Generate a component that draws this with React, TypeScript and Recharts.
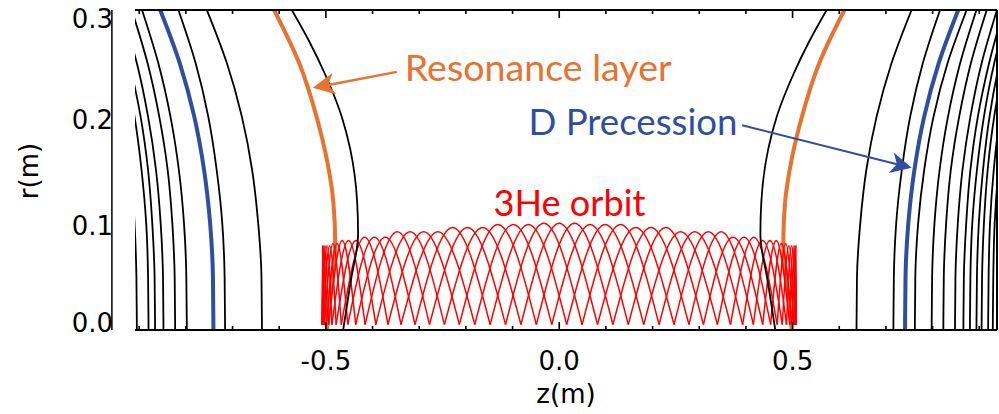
import React from 'react';
import { LineChart, Line, XAxis, YAxis, ReferenceLine, ReferenceDot, Label } from 'recharts';

// ---------- axes ----------
const zDomain: [number, number] = [-0.909, 0.938];
const rDomain: [number, number] = [0, 0.3];
const xTicks = [-0.9, -0.8, -0.7, -0.6, -0.5, -0.4, -0.3, -0.2, -0.1, 0, 0.1, 0.2, 0.3, 0.4, 0.5, 0.6, 0.7, 0.8, 0.9];
const xMajorTicks = [-0.5, 0, 0.5];
const yTicks = [0, 0.1, 0.2, 0.3];
const yTickLabels = ['0.0', '0.1', '0.2', '0.3'];

// ---------- field-line contours (|z| at given r) ----------
const contourR = [0, 0.05, 0.1, 0.15, 0.2, 0.25, 0.3];
const blackContoursZ: number[][] = [
  [0.637, 0.638, 0.645, 0.658, 0.680, 0.712, 0.755],
  [0.716, 0.717, 0.722, 0.734, 0.752, 0.779, 0.816],
  [0.762, 0.763, 0.769, 0.782, 0.802, 0.832, 0.873],
  [0.798, 0.799, 0.804, 0.815, 0.833, 0.859, 0.894],
  [0.823, 0.824, 0.829, 0.839, 0.857, 0.882, 0.916],
  [0.848, 0.849, 0.854, 0.864, 0.881, 0.905, 0.938],
  [0.866, 0.867, 0.872, 0.881, 0.897, 0.921, 0.952],
  [0.880, 0.881, 0.885, 0.895, 0.910, 0.932, 0.962],
  [0.894, 0.895, 0.899, 0.908, 0.922, 0.943, 0.972],
  [0.905, 0.906, 0.910, 0.918, 0.932, 0.953, 0.980],
  [0.919, 0.920, 0.923, 0.931, 0.944, 0.963, 0.989],
  [0.929, 0.930, 0.933, 0.941, 0.954, 0.972, 0.997],
];
// which of the contours above also appear on the left (negative z) side
const leftContourIdx = [0, 1, 3, 4, 5, 6, 7, 9, 10, 11];
const precessionZ = [0.741, 0.742, 0.748, 0.761, 0.782, 0.813, 0.855];

const innerContourR = [0, 0.045, 0.09, 0.12, 0.17, 0.2, 0.24, 0.27, 0.3];
const innerContourZ = [0.463, 0.447, 0.431, 0.433, 0.448, 0.466, 0.502, 0.535, 0.573];

const resonanceR = [0, 0.04, 0.08, 0.12, 0.16, 0.2, 0.25, 0.3];
const resonanceZ = [0.498, 0.489, 0.480, 0.484, 0.498, 0.520, 0.557, 0.611];

// ---------- 3He orbit: cusp positions (r ~ 0) along z, and arch-top envelope ----------
const orbitCusps = [
  -0.508, -0.506, -0.503, -0.499, -0.494, -0.487, -0.478, -0.467, -0.453, -0.436, -0.416, -0.393,
  -0.367, -0.339, -0.309, -0.278, -0.246, -0.214, -0.181, -0.148, -0.115, -0.082, -0.049, -0.016,
  0.016, 0.049, 0.082, 0.115, 0.148, 0.181, 0.214, 0.246, 0.278, 0.309, 0.339, 0.367,
  0.393, 0.416, 0.436, 0.453, 0.467, 0.478, 0.487, 0.494, 0.499, 0.503, 0.506, 0.508,
];
const orbitEnvZ = [0, 0.1, 0.2, 0.3, 0.4, 0.45, 0.48, 0.5];
const orbitEnvR = [0.100, 0.099, 0.096, 0.092, 0.087, 0.084, 0.081, 0.079];
const ORBIT_R_MIN = 0.005;
const ARCH_SPAN = 5;

// ---------- annotations ----------
const resonanceArrow = [{ x: -0.348, y: 0.242 }, { x: -0.528, y: 0.227 }];
const precessionArrow = [{ x: 0.392, y: 0.192 }, { x: 0.755, y: 0.152 }];
const resonanceLabel = { z: -0.331, r: 0.233, text: 'Resonance layer' };
const precessionLabel = { z: -0.066, r: 0.183, text: 'D Precession' };
const orbitLabel = { z: -0.141, r: 0.107, text: '3He orbit' };
const yAxisLineZ = -0.9585;

// ---------- styles ----------
const ORANGE = '#E8722E';
const BLUE = '#2F4E9F';
const RED = '#FF0000';
const FONT = 'DejaVu Sans';
const ANNOT_FONT = 'Lato';

// ---------- build series ----------
type Pt = { z: number; r: number };
const toPts = (zs: number[], rs: number[], sign: number): Pt[] => rs.map((r, i) => ({ z: sign * zs[i], r }));

const blackSeries: Pt[][] = [];
blackContoursZ.forEach((zs, i) => {
  blackSeries.push(toPts(zs, contourR, 1));
  if (leftContourIdx.includes(i)) blackSeries.push(toPts(zs, contourR, -1));
});
blackSeries.push(toPts(innerContourZ, innerContourR, 1));
blackSeries.push(toPts(innerContourZ, innerContourR, -1));

const blueSeries = [toPts(precessionZ, contourR, 1), toPts(precessionZ, contourR, -1)];
const orangeSeries = [toPts(resonanceZ, resonanceR, 1), toPts(resonanceZ, resonanceR, -1)];

const orbitArches: Pt[][] = [];
{
  const n = orbitCusps.length;
  for (let i = -(ARCH_SPAN - 1); i < n - 1; i++) {
    const a = Math.max(i, 0);
    const b = Math.min(i + ARCH_SPAN, n - 1);
    if (b <= a) continue;
    const z0 = orbitCusps[a];
    const z1 = orbitCusps[b];
    const zm = (z0 + z1) / 2;
    let best = 0;
    orbitEnvZ.forEach((ez, k) => {
      if (Math.abs(Math.abs(zm) - ez) < Math.abs(Math.abs(zm) - orbitEnvZ[best])) best = k;
    });
    orbitArches.push([
      { z: z0, r: ORBIT_R_MIN },
      { z: zm, r: orbitEnvR[best] },
      { z: z1, r: ORBIT_R_MIN },
    ]);
  }
}

// ---------- custom renderers ----------
const XTick = (props: any) => {
  const { x, y, payload, top } = props;
  const v = payload.value as number;
  const major = xMajorTicks.some((m) => Math.abs(m - v) < 1e-6);
  const len = major ? 8 : 4;
  return (
    <g>
      <line x1={x} x2={x} y1={y} y2={top ? y + len : y - len} stroke="#000" strokeWidth={1.6} />
      {!top && major && (
        <text x={x} y={y + 40} textAnchor="middle" fontSize={26} fontFamily={FONT} fill="#000">
          {v.toFixed(1)}
        </text>
      )}
    </g>
  );
};

const yBaselineShift = [2, 12, 12, 18];
const YTick = (props: any) => {
  const { x, y, payload } = props;
  const idx = yTicks.findIndex((t) => Math.abs(t - payload.value) < 1e-6);
  return (
    <text x={x - 22} y={y + (yBaselineShift[idx] ?? 0)} textAnchor="end" fontSize={26} fontFamily={FONT} fill="#000">
      {yTickLabels[idx]}
    </text>
  );
};

const makeArrow = (color: string, width: number, headLen: number, headHalf: number) => (p: any) => {
  const { x1, y1, x2, y2 } = p;
  const dx = x2 - x1;
  const dy = y2 - y1;
  const L = Math.hypot(dx, dy) || 1;
  const ux = dx / L;
  const uy = dy / L;
  const px = -uy;
  const py = ux;
  const bx = x2 - ux * headLen;
  const by = y2 - uy * headLen;
  const nx = x2 - ux * headLen * 0.72;
  const ny = y2 - uy * headLen * 0.72;
  const pts = [
    [x2, y2],
    [bx + px * headHalf, by + py * headHalf],
    [nx, ny],
    [bx - px * headHalf, by - py * headHalf],
  ]
    .map((q) => q.join(','))
    .join(' ');
  return (
    <g>
      <line x1={x1} y1={y1} x2={nx} y2={ny} stroke={color} strokeWidth={width} />
      <polygon points={pts} fill={color} />
    </g>
  );
};

const makeText = (text: string, color: string, length: number) => (p: any) => (
  <text
    x={p.cx}
    y={p.cy}
    fill={color}
    fontSize={37}
    fontFamily={ANNOT_FONT}
    textLength={length}
    lengthAdjust="spacingAndGlyphs"
  >
    {text}
  </text>
);

const YTitle = (props: any) => {
  const vb = props.viewBox || { x: 0, y: 10, width: 135, height: 320 };
  const cy = vb.y + vb.height / 2 + 1;
  return (
    <text transform={`translate(38,${cy}) rotate(-90)`} textAnchor="middle" fontSize={26} fontFamily={FONT} fill="#000">
      r(m)
    </text>
  );
};

export default function App() {
  const common = { dataKey: 'r', dot: false, activeDot: false, isAnimationActive: false, legendType: 'none' as const };
  return (
    <div style={{ position: 'absolute', left: 0, top: 0, width: 999, height: 414, background: '#fff' }}>
      <LineChart width={999} height={414} margin={{ top: 0, right: 2, bottom: 0, left: 0 }}>
        <XAxis
          dataKey="z"
          type="number"
          domain={zDomain}
          allowDataOverflow
          ticks={xTicks}
          interval={0}
          tickSize={0}
          tickMargin={0}
          tickLine={false}
          height={84}
          axisLine={{ stroke: '#000', strokeWidth: 2 }}
          tick={<XTick />}
          label={{ value: 'z(m)', position: 'insideBottom', offset: 11, fontSize: 26, fill: '#000', fontFamily: FONT }}
        />
        <XAxis
          xAxisId="top"
          orientation="top"
          dataKey="z"
          type="number"
          domain={zDomain}
          allowDataOverflow
          ticks={xTicks}
          interval={0}
          tickSize={0}
          tickMargin={0}
          tickLine={false}
          height={10}
          axisLine={{ stroke: '#000', strokeWidth: 2 }}
          tick={<XTick top />}
        />
        <YAxis
          type="number"
          domain={rDomain}
          allowDataOverflow
          ticks={yTicks}
          interval={0}
          width={135}
          tickSize={0}
          tickMargin={0}
          tickLine={false}
          axisLine={false}
          tick={<YTick />}
          label={<Label content={<YTitle />} />}
        />

        {orangeSeries.map((d, i) => (
          <Line key={`or${i}`} {...common} data={d} type="monotoneY" stroke={ORANGE} strokeWidth={4} />
        ))}
        {blueSeries.map((d, i) => (
          <Line key={`bl${i}`} {...common} data={d} type="monotoneY" stroke={BLUE} strokeWidth={4} />
        ))}
        {orbitArches.map((d, i) => (
          <Line key={`orb${i}`} {...common} data={d} type="monotoneX" stroke={RED} strokeWidth={1.5} />
        ))}
        {blackSeries.map((d, i) => (
          <Line key={`bk${i}`} {...common} data={d} type="monotoneY" stroke="#000" strokeWidth={1.8} />
        ))}

        <ReferenceLine x={zDomain[1]} stroke="#000" strokeWidth={2} ifOverflow="visible" />
        <ReferenceLine x={yAxisLineZ} stroke="#000" strokeWidth={1.5} ifOverflow="visible" />

        <ReferenceLine segment={resonanceArrow} shape={makeArrow(ORANGE, 2.5, 22, 11)} />
        <ReferenceLine segment={precessionArrow} shape={makeArrow(BLUE, 2, 21, 10.5)} />

        <ReferenceDot x={resonanceLabel.z} y={resonanceLabel.r} shape={makeText(resonanceLabel.text, ORANGE, 267)} />
        <ReferenceDot x={precessionLabel.z} y={precessionLabel.r} shape={makeText(precessionLabel.text, BLUE, 209)} />
        <ReferenceDot x={orbitLabel.z} y={orbitLabel.r} shape={makeText(orbitLabel.text, RED, 152)} />
      </LineChart>
    </div>
  );
}
